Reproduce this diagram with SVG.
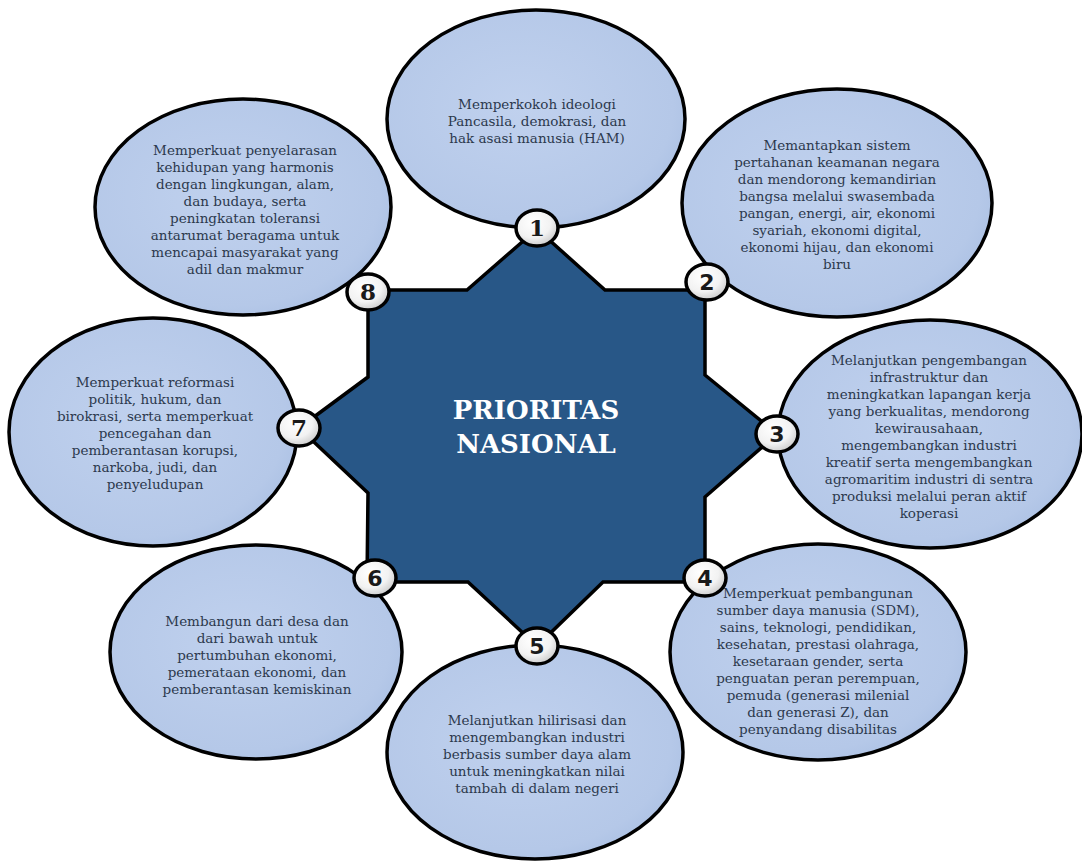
<svg xmlns="http://www.w3.org/2000/svg" width="1082" height="861" viewBox="0 0 1082 861">
<defs>
<radialGradient id="gEll" cx="0.45" cy="0.45" r="0.6">
<stop offset="0" stop-color="#c0d1ee"/>
<stop offset="0.85" stop-color="#b5c8e8"/>
<stop offset="1" stop-color="#acc1e4"/>
</radialGradient>
<radialGradient id="gBadge" cx="0.4" cy="0.35" r="0.7">
<stop offset="0" stop-color="#ffffff"/>
<stop offset="0.6" stop-color="#f2f2f2"/>
<stop offset="1" stop-color="#c8c8c8"/>
</radialGradient>
</defs>
<style>
.ell{fill:url(#gEll);stroke:#000;stroke-width:3.5}
.t{font-family:"DejaVu Serif","Liberation Serif",serif;font-size:13.5px;fill:#2c394d;text-anchor:middle}
.badge{fill:url(#gBadge);stroke:#000;stroke-width:3.5}
.num{font-family:"DejaVu Sans","Liberation Sans",sans-serif;font-weight:bold;font-size:22px;fill:#1a1a1a;text-anchor:middle}
.nums{font-family:"DejaVu Serif","Liberation Serif",serif;font-weight:bold;font-size:23px;fill:#1a1a1a;text-anchor:middle}
.title{font-family:"DejaVu Serif","Liberation Serif",serif;font-weight:bold;font-size:26px;fill:#ffffff;text-anchor:middle}
</style>
<rect width="1082" height="861" fill="#ffffff"/>

<g id="center">
<polygon points="537,229 605,290 705,290 705,375 777,434 705,497 705,582 603,582 537,646 468,582 367,582 368,493 299,428 368,377 368,290 467,290" fill="#285787" stroke="#000" stroke-width="3.5" stroke-linejoin="miter"/>
<text class="title" x="536" y="419">PRIORITAS</text>
<text class="title" x="536" y="453">NASIONAL</text>
</g>

<g id="connectors"></g>

<g id="node1">
<ellipse class="ell" cx="536" cy="119" rx="149" ry="109"/>
<text class="t" x="537" y="109">Memperkokoh ideologi</text>
<text class="t" x="537" y="126">Pancasila, demokrasi, dan</text>
<text class="t" x="537" y="143">hak asasi manusia (HAM)</text>
</g>

<g id="node2">
<ellipse class="ell" cx="837" cy="203" rx="155" ry="114"/>
<text class="t" x="837" y="150">Memantapkan sistem</text>
<text class="t" x="837" y="167">pertahanan keamanan negara</text>
<text class="t" x="837" y="184">dan mendorong kemandirian</text>
<text class="t" x="837" y="201">bangsa melalui swasembada</text>
<text class="t" x="837" y="218">pangan, energi, air, ekonomi</text>
<text class="t" x="837" y="235">syariah, ekonomi digital,</text>
<text class="t" x="837" y="252">ekonomi hijau, dan ekonomi</text>
<text class="t" x="837" y="269">biru</text>
</g>

<g id="node3">
<ellipse class="ell" cx="930" cy="434" rx="152" ry="114"/>
<text class="t" x="929" y="365">Melanjutkan pengembangan</text>
<text class="t" x="929" y="382">infrastruktur dan</text>
<text class="t" x="929" y="399">meningkatkan lapangan kerja</text>
<text class="t" x="929" y="416">yang berkualitas, mendorong</text>
<text class="t" x="929" y="433">kewirausahaan,</text>
<text class="t" x="929" y="450">mengembangkan industri</text>
<text class="t" x="929" y="467">kreatif serta mengembangkan</text>
<text class="t" x="929" y="484">agromaritim industri di sentra</text>
<text class="t" x="929" y="501">produksi melalui peran aktif</text>
<text class="t" x="929" y="518">koperasi</text>
</g>

<g id="node4">
<ellipse class="ell" cx="818" cy="652" rx="148" ry="108"/>
<text class="t" x="818" y="598">Memperkuat pembangunan</text>
<text class="t" x="818" y="615">sumber daya manusia (SDM),</text>
<text class="t" x="818" y="632">sains, teknologi, pendidikan,</text>
<text class="t" x="818" y="649">kesehatan, prestasi olahraga,</text>
<text class="t" x="818" y="666">kesetaraan gender, serta</text>
<text class="t" x="818" y="683">penguatan peran perempuan,</text>
<text class="t" x="818" y="700">pemuda (generasi milenial</text>
<text class="t" x="818" y="717">dan generasi Z), dan</text>
<text class="t" x="818" y="734">penyandang disabilitas</text>
</g>

<g id="node5">
<ellipse class="ell" cx="535" cy="752" rx="148" ry="107"/>
<text class="t" x="537" y="725">Melanjutkan hilirisasi dan</text>
<text class="t" x="537" y="742">mengembangkan industri</text>
<text class="t" x="537" y="759">berbasis sumber daya alam</text>
<text class="t" x="537" y="776">untuk meningkatkan nilai</text>
<text class="t" x="537" y="793">tambah di dalam negeri</text>
</g>

<g id="node6">
<ellipse class="ell" cx="256" cy="652" rx="146" ry="107"/>
<text class="t" x="257" y="626">Membangun dari desa dan</text>
<text class="t" x="257" y="643">dari bawah untuk</text>
<text class="t" x="257" y="660">pertumbuhan ekonomi,</text>
<text class="t" x="257" y="677">pemerataan ekonomi, dan</text>
<text class="t" x="257" y="694">pemberantasan kemiskinan</text>
</g>

<g id="node7">
<ellipse class="ell" cx="153" cy="432" rx="144" ry="114"/>
<text class="t" x="155" y="387">Memperkuat reformasi</text>
<text class="t" x="155" y="404">politik, hukum, dan</text>
<text class="t" x="155" y="421">birokrasi, serta memperkuat</text>
<text class="t" x="155" y="438">pencegahan dan</text>
<text class="t" x="155" y="455">pemberantasan korupsi,</text>
<text class="t" x="155" y="472">narkoba, judi, dan</text>
<text class="t" x="155" y="489">penyeludupan</text>
</g>

<g id="node8">
<ellipse class="ell" cx="243" cy="207" rx="148" ry="108"/>
<text class="t" x="245" y="155">Memperkuat penyelarasan</text>
<text class="t" x="245" y="172">kehidupan yang harmonis</text>
<text class="t" x="245" y="189">dengan lingkungan, alam,</text>
<text class="t" x="245" y="206">dan budaya, serta</text>
<text class="t" x="245" y="223">peningkatan toleransi</text>
<text class="t" x="245" y="240">antarumat beragama untuk</text>
<text class="t" x="245" y="257">mencapai masyarakat yang</text>
<text class="t" x="245" y="274">adil dan makmur</text>
</g>

<g id="badges">
<g id="badge1"><ellipse class="badge" cx="537" cy="228" rx="21" ry="18"/><text class="nums" x="537" y="236">1</text></g>
<g id="badge2"><ellipse class="badge" cx="707" cy="282" rx="21" ry="18"/><text class="num" x="707" y="290">2</text></g>
<g id="badge3"><ellipse class="badge" cx="777" cy="434" rx="21" ry="18"/><text class="num" x="777" y="442">3</text></g>
<g id="badge4"><ellipse class="badge" cx="705" cy="578" rx="21" ry="18"/><text class="num" x="705" y="586">4</text></g>
<g id="badge5"><ellipse class="badge" cx="537" cy="646" rx="21" ry="18"/><text class="num" x="537" y="654">5</text></g>
<g id="badge6"><ellipse class="badge" cx="375" cy="578" rx="21" ry="18"/><text class="num" x="375" y="586">6</text></g>
<g id="badge7"><ellipse class="badge" cx="299" cy="428" rx="21" ry="18"/><text class="nums" x="299" y="436">7</text></g>
<g id="badge8"><ellipse class="badge" cx="368" cy="292" rx="21" ry="18"/><text class="nums" x="368" y="300">8</text></g>
</g>
</svg>
